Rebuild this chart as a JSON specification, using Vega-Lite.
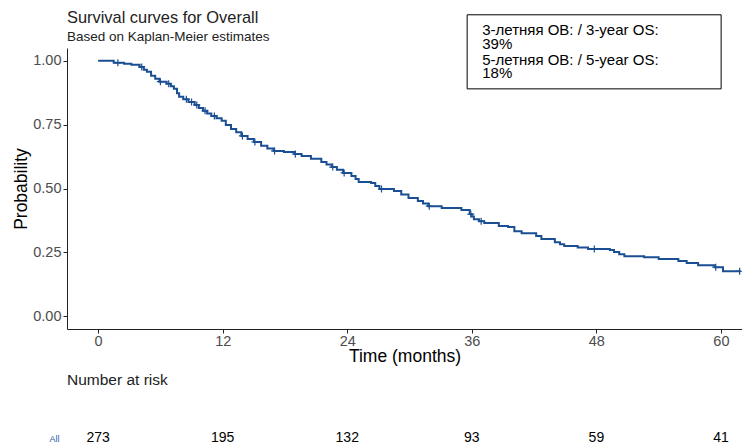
{
  "$schema": "https://vega.github.io/schema/vega-lite/v6.json",
  "padding": {"left": 12, "top": 10, "right": 0, "bottom": 0},
  "spacing": 7,
  "config": {
    "font": "Liberation Sans",
    "view": {"stroke": null},
    "axis": {"grid": false, "domainColor": "#222222", "tickColor": "#222222", "labelFont": "Liberation Sans", "titleFont": "Liberation Sans", "titleFontWeight": "normal", "titleColor": "#000000", "labelColor": "#4d4d4d"}
  },
  "vconcat": [
    {
      "width": 675,
      "height": 281,
      "title": {"text": "Survival curves for Overall", "subtitle": "Based on Kaplan-Meier estimates", "anchor": "start", "frame": "group", "fontSize": 16.4, "subtitleFontSize": 13.5, "fontWeight": "normal", "color": "#222222", "subtitleColor": "#222222", "offset": -29, "subtitlePadding": 3, "font": "Liberation Sans", "subtitleFont": "Liberation Sans"},
      "data": {"values": [
        {"t": 0, "s": 1.0}, {"t": 1.5, "s": 0.992}, {"t": 2.5, "s": 0.988}, {"t": 3.2, "s": 0.984},
        {"t": 4.0, "s": 0.976}, {"t": 4.4, "s": 0.965}, {"t": 4.7, "s": 0.957}, {"t": 5.1, "s": 0.941},
        {"t": 5.5, "s": 0.930}, {"t": 5.9, "s": 0.918}, {"t": 6.6, "s": 0.910}, {"t": 7.0, "s": 0.900},
        {"t": 7.3, "s": 0.890}, {"t": 7.6, "s": 0.873}, {"t": 7.8, "s": 0.859}, {"t": 8.2, "s": 0.849},
        {"t": 8.7, "s": 0.839}, {"t": 9.3, "s": 0.827}, {"t": 9.7, "s": 0.815}, {"t": 10.1, "s": 0.804},
        {"t": 10.5, "s": 0.794}, {"t": 10.9, "s": 0.784}, {"t": 11.4, "s": 0.775}, {"t": 11.9, "s": 0.765},
        {"t": 12.3, "s": 0.749}, {"t": 12.8, "s": 0.733}, {"t": 13.3, "s": 0.720}, {"t": 13.8, "s": 0.706},
        {"t": 14.4, "s": 0.694}, {"t": 15.0, "s": 0.682}, {"t": 15.7, "s": 0.667}, {"t": 16.3, "s": 0.657},
        {"t": 16.9, "s": 0.647}, {"t": 17.9, "s": 0.643}, {"t": 18.9, "s": 0.635}, {"t": 19.6, "s": 0.627},
        {"t": 20.5, "s": 0.616}, {"t": 21.5, "s": 0.604}, {"t": 22.0, "s": 0.594}, {"t": 22.5, "s": 0.584},
        {"t": 23.0, "s": 0.573}, {"t": 23.6, "s": 0.561}, {"t": 24.4, "s": 0.549}, {"t": 24.8, "s": 0.537},
        {"t": 25.1, "s": 0.525}, {"t": 26.3, "s": 0.522}, {"t": 26.7, "s": 0.510}, {"t": 27.1, "s": 0.498},
        {"t": 28.5, "s": 0.490}, {"t": 29.2, "s": 0.477}, {"t": 29.9, "s": 0.463}, {"t": 30.8, "s": 0.451},
        {"t": 31.3, "s": 0.441}, {"t": 31.8, "s": 0.431}, {"t": 33.1, "s": 0.424}, {"t": 35.0, "s": 0.416},
        {"t": 35.8, "s": 0.400}, {"t": 36.0, "s": 0.390}, {"t": 36.2, "s": 0.380}, {"t": 36.7, "s": 0.372},
        {"t": 37.2, "s": 0.365}, {"t": 38.6, "s": 0.353}, {"t": 39.5, "s": 0.349}, {"t": 40.1, "s": 0.333},
        {"t": 40.8, "s": 0.325}, {"t": 42.2, "s": 0.314}, {"t": 42.7, "s": 0.302}, {"t": 44.0, "s": 0.290},
        {"t": 44.5, "s": 0.282}, {"t": 44.9, "s": 0.275}, {"t": 46.2, "s": 0.269}, {"t": 47.2, "s": 0.263},
        {"t": 49.3, "s": 0.259}, {"t": 49.7, "s": 0.251}, {"t": 50.2, "s": 0.243}, {"t": 50.7, "s": 0.235},
        {"t": 52.6, "s": 0.231}, {"t": 54.0, "s": 0.224}, {"t": 55.9, "s": 0.216}, {"t": 56.7, "s": 0.208},
        {"t": 57.8, "s": 0.200}, {"t": 59.4, "s": 0.192}, {"t": 60.2, "s": 0.176}, {"t": 61.9, "s": 0.176}
      ]},
      "layer": [
        {
          "mark": {"type": "line", "interpolate": "step-after", "color": "#1b4f93", "strokeWidth": 2},
          "encoding": {
            "x": {"field": "t", "type": "quantitative", "scale": {"domain": [-3, 62.03], "nice": false, "zero": false},
                  "axis": {"values": [0, 12, 24, 36, 48, 60], "title": "Time (months)", "titleFontSize": 17.5, "labelFontSize": 14.5, "tickSize": 4, "labelPadding": 1, "titlePadding": 0}},
            "y": {"field": "s", "type": "quantitative", "scale": {"domain": [-0.05, 1.05], "nice": false, "zero": false},
                  "axis": {"values": [0, 0.25, 0.5, 0.75, 1], "format": ".2f", "title": "Probability", "titleFontSize": 17.5, "labelFontSize": 14.5, "tickSize": 4, "labelPadding": 2, "titlePadding": 2.5}}
          }
        },
        {
          "data": {"values": [
            {"t": 1.9, "s": 0.992}, {"t": 4.2, "s": 0.976}, {"t": 6.0, "s": 0.918}, {"t": 6.8, "s": 0.910},
            {"t": 8.5, "s": 0.849}, {"t": 9.0, "s": 0.839}, {"t": 9.5, "s": 0.827}, {"t": 10.3, "s": 0.804},
            {"t": 11.2, "s": 0.784}, {"t": 13.9, "s": 0.706}, {"t": 15.1, "s": 0.682}, {"t": 17.0, "s": 0.647},
            {"t": 19.0, "s": 0.635}, {"t": 22.6, "s": 0.584}, {"t": 23.7, "s": 0.561}, {"t": 27.3, "s": 0.498},
            {"t": 31.9, "s": 0.431}, {"t": 35.9, "s": 0.400}, {"t": 36.9, "s": 0.372}, {"t": 47.8, "s": 0.263},
            {"t": 59.5, "s": 0.192}, {"t": 61.8, "s": 0.176}
          ]},
          "mark": {"type": "point", "shape": "M-1,0L1,0M0,-1L0,1", "filled": false, "color": "#1b4f93", "strokeWidth": 1.2, "size": 49, "opacity": 1},
          "encoding": {
            "x": {"field": "t", "type": "quantitative"},
            "y": {"field": "s", "type": "quantitative"}
          }
        },
        {
          "data": {"values": [{"box": "legend"}]},
          "mark": {"type": "rect", "fill": "#ffffff", "stroke": "#000000", "strokeWidth": 1, "clip": false},
          "encoding": {
            "x": {"datum": 35.55}, "x2": {"datum": 60.02},
            "y": {"datum": 1.18}, "y2": {"datum": 0.89}
          }
        },
        {
          "data": {"values": [{"label": "3y"}]},
          "mark": {"type": "text", "align": "left", "baseline": "top", "fontSize": 15, "lineHeight": 13.5, "color": "#000000", "clip": false},
          "encoding": {
            "x": {"datum": 37.0}, "y": {"datum": 1.146},
            "text": {"value": ["3-летняя ОВ: / 3-year OS:", "39%"]}
          }
        },
        {
          "data": {"values": [{"label": "5y"}]},
          "mark": {"type": "text", "align": "left", "baseline": "top", "fontSize": 15, "lineHeight": 13.5, "color": "#000000", "clip": false},
          "encoding": {
            "x": {"datum": 37.0}, "y": {"datum": 1.032},
            "text": {"value": ["5-летняя ОВ: / 5-year OS:", "18%"]}
          }
        }
      ]
    },
    {
      "width": 675,
      "height": 16,
      "title": {"text": "Number at risk", "anchor": "start", "frame": "group", "fontSize": 15.5, "fontWeight": "normal", "color": "#222222", "offset": 42, "font": "Liberation Sans"},
      "data": {"values": [
        {"strata": "All", "time": 0, "n": 273}, {"strata": "All", "time": 12, "n": 195},
        {"strata": "All", "time": 24, "n": 132}, {"strata": "All", "time": 36, "n": 93},
        {"strata": "All", "time": 48, "n": 59}, {"strata": "All", "time": 60, "n": 41}
      ]},
      "mark": {"type": "text", "fontSize": 14, "color": "#000000", "baseline": "middle"},
      "encoding": {
        "x": {"field": "time", "type": "quantitative", "scale": {"domain": [-3, 62.03], "nice": false, "zero": false}, "axis": null},
        "y": {"field": "strata", "type": "nominal", "axis": {"title": null, "domain": false, "ticks": false, "labelColor": "#2a5caa", "labelFontSize": 9, "labelPadding": 8}},
        "text": {"field": "n", "type": "quantitative"}
      }
    }
  ]
}
